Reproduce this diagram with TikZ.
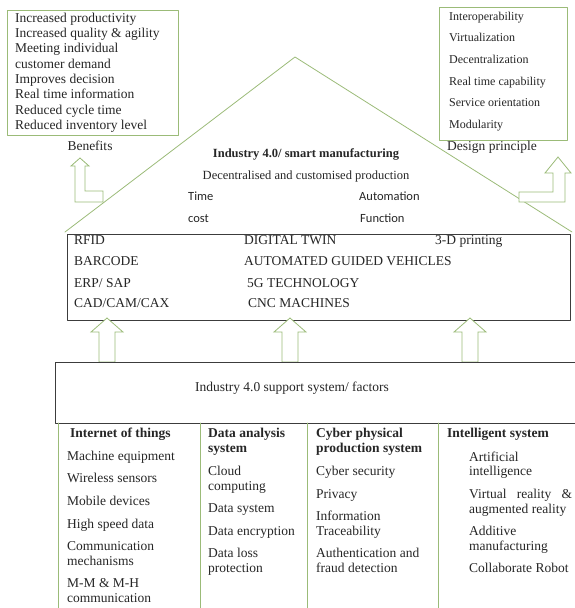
\documentclass[tikz,border=0pt]{standalone}
\usepackage{fontspec}
\setmainfont{Liberation Serif}
\newfontfamily\calibfont{Carlito}
\definecolor{boxgreen}{RGB}{155,187,120}
\definecolor{darkline}{RGB}{60,60,60}
\tikzset{
  txt/.style={anchor=mid west, inner sep=0pt, text=black!85, font=\fontsize{13.5}{15}\selectfont},
  hdr/.style={txt, font=\fontsize{13.5}{15}\selectfont\bfseries},
  smalltxt/.style={txt, font=\fontsize{12}{14}\selectfont},
  sanstxt/.style={txt, font=\calibfont\fontsize{12.5}{14}\selectfont},
  greenbox/.style={draw=boxgreen, line width=0.8pt, fill=white},
  darkbox/.style={draw=darkline, line width=0.9pt},
  blockarrow/.style={draw=boxgreen, line width=0.8pt, fill=white, line join=miter},
}
\begin{document}
\begin{tikzpicture}[x=1pt,y=-1pt,line cap=round,line join=round]
\useasboundingbox (0,0) rectangle (574,608);

% ---- roof of the house ----
\coordinate (roofL) at (65,232);
\coordinate (apex) at (295,57);
\coordinate (roofR) at (572,232);
\draw[boxgreen,line width=0.8pt] (roofL) -- (apex) -- (roofR);

% ---- benefits (top left) ----
\draw[greenbox] (7,10) rectangle (178,135);
\foreach \txt [count=\i] in {Increased productivity, Increased quality \& agility,
    Meeting individual, customer demand, Improves decision, Real time information,
    Reduced cycle time, Reduced inventory level}
  \node[txt] (ben\i) at (15,{4.7+15.3*\i}) {\txt};
\node[txt,anchor=mid] (benefits) at (90,148) {Benefits};
\draw[blockarrow] (80,158) -- (89,166) -- (85,166) -- (85,191) -- (103,191)
  -- (103,202) -- (75,202) -- (75,166) -- (71,166) -- cycle;

% ---- design principle (top right) ----
\draw[greenbox] (439,7) rectangle (567,140);
\foreach \txt [count=\i] in {Interoperability, Virtualization, Decentralization,
    Real time capability, Service orientation, Modularity}
  \node[smalltxt] (dp\i) at (449,{-3.6+21.6*\i}) {\txt};
\node[txt] (design) at (447,148) {Design principle};
\draw[blockarrow] (558,157) -- (571,173) -- (565,173) -- (565,202) -- (519,202)
  -- (519,192) -- (553,192) -- (553,173) -- (545,173) -- cycle;

% ---- texts under the roof ----
\node[hdr,anchor=mid,font=\fontsize{12.5}{14}\selectfont\bfseries] (title) at (306,155)
  {Industry 4.0/ smart manufacturing};
\node[txt,anchor=mid,font=\fontsize{12.5}{14}\selectfont] (subtitle) at (306,177)
  {Decentralised and customised production};
\node[sanstxt] (time) at (188,198) {Time};
\node[sanstxt] (cost) at (188,220) {cost};
\node[sanstxt] (auto) at (359,198) {Automation};
\node[sanstxt] (func) at (360,220) {Function};

% ---- technologies ----
\draw[darkbox,fill=white] (67,234) rectangle (570,320);
\node[txt] (rfid) at (74,242) {RFID};
\node[txt] (barcode) at (74,263) {BARCODE};
\node[txt] (erp) at (74,285) {ERP/ SAP};
\node[txt] (cad) at (74,305) {CAD/CAM/CAX};
\node[txt] (twin) at (244,242) {DIGITAL TWIN};
\node[txt] (agv) at (244,263) {AUTOMATED GUIDED VEHICLES};
\node[txt] (fiveg) at (247,285) {5G TECHNOLOGY};
\node[txt] (cnc) at (248,305) {CNC MACHINES};
\node[txt] (print) at (435,242) {3-D printing};

% ---- three arrows up to the technologies ----
\foreach \cx in {107,290,470}
  \draw[blockarrow] (\cx,318) -- ({\cx+16},332) -- ({\cx+8},332) -- ({\cx+8},362)
    -- ({\cx-8},362) -- ({\cx-8},332) -- ({\cx-16},332) -- cycle;

% ---- support system ----
\draw[darkbox] (580,362) -- (55,362) -- (55,423) -- (580,423);
\node[txt,anchor=mid] (support) at (292,389) {Industry 4.0 support system/ factors};

% ---- table of factors ----
\foreach \vx in {58,200,307,438}
  \draw[boxgreen,line width=0.8pt] (\vx,423) -- (\vx,612);

\node[hdr] (iot) at (70,435) {Internet of things};
\foreach \y/\txt [count=\i] in {458/Machine equipment, 480/Wireless sensors,
    503/Mobile devices, 526/High speed data, 548/Communication, 563/mechanisms,
    585/M-M \& M-H, 600/communication}
  \node[txt] (iot\i) at (67,\y) {\txt};

\node[hdr] (da) at (208,435) {Data analysis};
\node[hdr] (da0) at (208,450) {system};
\foreach \y/\txt [count=\i] in {473/Cloud, 488/computing, 510/Data system,
    533/Data encryption, 555/Data loss, 570/protection}
  \node[txt] (da\i) at (208,\y) {\txt};

\node[hdr] (cps) at (316,435) {Cyber physical};
\node[hdr] (cps0) at (316,450) {production system};
\foreach \y/\txt [count=\i] in {473/Cyber security, 496/Privacy, 518/Information,
    533/Traceability, 555/Authentication and, 570/fraud detection}
  \node[txt] (cps\i) at (316,\y) {\txt};

\node[hdr] (is) at (447,435) {Intelligent system};
\foreach \y/\txt [count=\i] in {459/Artificial, 473/intelligence,
    496/\makebox[103pt][s]{Virtual reality \&}, 511/augmented reality,
    533/Additive, 548/manufacturing, 570/Collaborate Robot}
  \node[txt] (is\i) at (469,\y) {\txt};

\end{tikzpicture}
\end{document}
